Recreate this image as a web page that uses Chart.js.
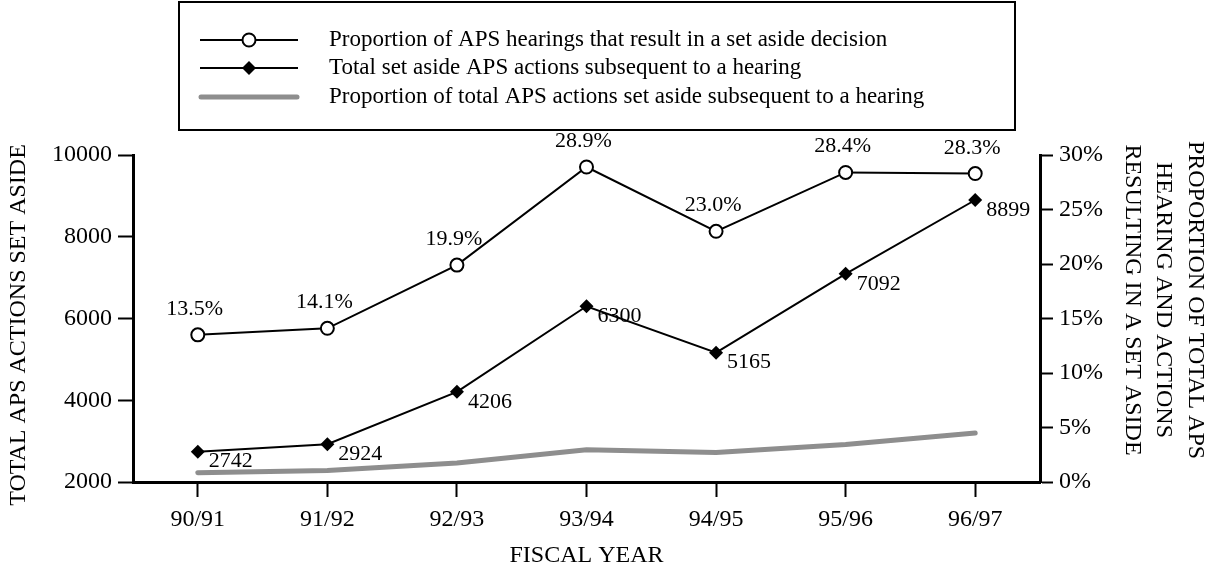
<!DOCTYPE html>
<html>
<head>
<meta charset="utf-8">
<script src="https://cdn.jsdelivr.net/npm/chart.js@4.4.0/dist/chart.umd.min.js"></script>
<style>
	body { margin: 0; background: #fff; }
	#wrap { width: 1211px; height: 573px; }
</style>
</head>
<body>
<div id="wrap"><canvas id="apsChart" width="1211" height="573"></canvas></div>
<script>
	//chart data -start
	var years = ['90/91', '91/92', '92/93', '93/94', '94/95', '95/96', '96/97'];
	var hearingPct = [13.5, 14.1, 19.9, 28.9, 23.0, 28.4, 28.3];
	var setAsideTotal = [2742, 2924, 4206, 6300, 5165, 7092, 8899];
	var actionsPct = [0.85, 1.05, 1.75, 2.95, 2.7, 3.45, 4.5];
	var legendLabels = [
		'Proportion of APS hearings that result in a set aside decision',
		'Total set aside APS actions subsequent to a hearing',
		'Proportion of total APS actions set aside subsequent to a hearing'
	];
	var leftTitle = 'TOTAL APS ACTIONS SET ASIDE';
	var rightTitle = ['PROPORTION OF TOTAL APS', 'HEARING AND ACTIONS', 'RESULTING IN A SET ASIDE'];
	var xTitle = 'FISCAL YEAR';
	//chart data -end

	var serif = "'Liberation Serif', 'Times New Roman', serif";
	var grey = '#8e8e8e';
	Chart.defaults.font.family = serif;
	Chart.defaults.color = '#000';

	//value labels next to the points -start
	var valueLabels = {
		id: 'valueLabels',
		afterDatasetsDraw: function(chart) {
			var ctx = chart.ctx;
			ctx.save();
			ctx.fillStyle = '#000';
			ctx.font = '22px ' + serif;
			var m0 = chart.getDatasetMeta(0);
			m0.data.forEach(function(p, i) {
				ctx.textAlign = 'center';
				ctx.textBaseline = 'alphabetic';
				ctx.fillText(hearingPct[i].toFixed(1) + '%', p.x - 3, p.y - 20);
			});
			var m1 = chart.getDatasetMeta(1);
			m1.data.forEach(function(p, i) {
				ctx.textAlign = 'left';
				ctx.textBaseline = 'middle';
				ctx.fillText(setAsideTotal[i], p.x + 11, p.y + 10);
			});
			ctx.restore();
		}
	};
	//value labels next to the points -end

	//legend box and axis titles -start
	var frame = {
		id: 'frame',
		afterDraw: function(chart) {
			var ctx = chart.ctx;
			var area = chart.chartArea;
			ctx.save();
			// legend box
			ctx.strokeStyle = '#000';
			ctx.lineWidth = 2;
			ctx.strokeRect(179, 2, 836, 128);
			var rows = [40, 68, 97];
			ctx.font = '23px ' + serif;
			ctx.textBaseline = 'middle';
			ctx.textAlign = 'left';
			ctx.fillStyle = '#000';
			for (var i = 0; i < rows.length; i++) {
				ctx.fillText(legendLabels[i], 329, rows[i]);
			}
			ctx.lineCap = 'butt';
			ctx.lineWidth = 2;
			ctx.beginPath(); ctx.moveTo(200, rows[0]); ctx.lineTo(298, rows[0]); ctx.stroke();
			ctx.beginPath(); ctx.moveTo(200, rows[1]); ctx.lineTo(298, rows[1]); ctx.stroke();
			ctx.beginPath(); ctx.arc(249, rows[0], 6.5, 0, Math.PI * 2);
			ctx.fillStyle = '#fff'; ctx.fill(); ctx.stroke();
			ctx.fillStyle = '#000';
			ctx.beginPath();
			ctx.moveTo(249, rows[1] - 7); ctx.lineTo(256, rows[1]);
			ctx.lineTo(249, rows[1] + 7); ctx.lineTo(242, rows[1]);
			ctx.closePath(); ctx.fill();
			ctx.strokeStyle = grey;
			ctx.lineWidth = 5;
			ctx.lineCap = 'round';
			ctx.beginPath(); ctx.moveTo(201, rows[2]); ctx.lineTo(297, rows[2]); ctx.stroke();

			// axis titles
			ctx.fillStyle = '#000';
			ctx.font = '24px ' + serif;
			ctx.textAlign = 'center';
			ctx.textBaseline = 'middle';
			ctx.save();
			ctx.translate(19, 325);
			ctx.rotate(-Math.PI / 2);
			ctx.fillText(leftTitle, 0, 0);
			ctx.restore();
			var cols = [1195, 1163, 1132];
			for (var j = 0; j < rightTitle.length; j++) {
				ctx.save();
				ctx.translate(cols[j], 300);
				ctx.rotate(Math.PI / 2);
				ctx.fillText(rightTitle[j], 0, 0);
				ctx.restore();
			}
			ctx.fillText(xTitle, (area.left + area.right) / 2, 556);
			ctx.restore();
		}
	};
	//legend box and axis titles -end

	var tickFont = { size: 24, family: serif };
	function axisGrid(len) {
		return {
			drawOnChartArea: false,
			drawTicks: true,
			tickLength: len,
			tickWidth: 2,
			tickColor: '#000',
			offset: false
		};
	}
	var axisBorder = { display: true, color: '#000', width: 3 };

	var ctx = document.getElementById('apsChart').getContext('2d');
	var apsChart = new Chart(ctx, {
		type: 'line',
		data: {
			labels: years,
			datasets: [{
				label: legendLabels[0],
				data: hearingPct,
				yAxisID: 'yR',
				borderColor: '#000',
				borderWidth: 2,
				pointStyle: 'circle',
				pointRadius: 6.5,
				pointBorderWidth: 2,
				pointBackgroundColor: '#fff',
				pointBorderColor: '#000',
				tension: 0
			}, {
				label: legendLabels[1],
				data: setAsideTotal,
				yAxisID: 'yL',
				borderColor: '#000',
				borderWidth: 2,
				pointStyle: 'rectRot',
				pointRadius: 7,
				pointBorderWidth: 0,
				pointBackgroundColor: '#000',
				pointBorderColor: '#000',
				tension: 0
			}, {
				label: legendLabels[2],
				data: actionsPct,
				yAxisID: 'yR',
				borderColor: grey,
				borderWidth: 5,
				borderCapStyle: 'round',
				pointRadius: 0,
				tension: 0
			}]
		},
		options: {
			responsive: false,
			animation: false,
			layout: { padding: { top: 155, left: 0, right: 0, bottom: 0 } },
			plugins: {
				legend: { display: false },
				tooltip: { enabled: false }
			},
			scales: {
				x: {
					type: 'category',
					offset: true,
					grid: axisGrid(15),
					border: axisBorder,
					ticks: { font: tickFont, padding: 8, maxRotation: 0 },
					afterFit: function(scale) { scale.height = 91; }
				},
				yL: {
					position: 'left',
					min: 2000,
					max: 10000,
					grid: axisGrid(15),
					border: axisBorder,
					ticks: {
						stepSize: 2000,
						font: tickFont,
						padding: 6,
						callback: function(v) { return String(v); }
					},
					afterFit: function(scale) { scale.width = 133; }
				},
				yR: {
					position: 'right',
					min: 0,
					max: 30,
					grid: axisGrid(13),
					border: axisBorder,
					ticks: {
						stepSize: 5,
						font: tickFont,
						padding: 6,
						callback: function(v) { return v + '%'; }
					},
					afterFit: function(scale) { scale.width = 171; }
				}
			}
		},
		plugins: [valueLabels, frame]
	});
</script>
</body>
</html>
